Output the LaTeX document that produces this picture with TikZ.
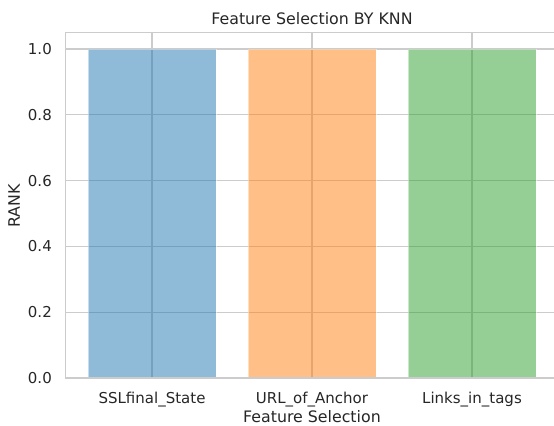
\documentclass[tikz,border=0pt]{standalone}
\usepackage{fontspec}
\setmainfont{DejaVu Sans}
\usepackage{xcolor}
\usetikzlibrary{positioning}
\definecolor{txt}{HTML}{262626}
\definecolor{gridc}{HTML}{CCCCCC}
\definecolor{barb}{HTML}{1F77B4}
\definecolor{baro}{HTML}{FF7F0E}
\definecolor{barg}{HTML}{2CA02C}
\tikzset{
  gridl/.style = {gridc,line width=1.1pt},
  spine/.style = {gridc,line width=1.6pt},
  rankbar/.style = {fill opacity=0.5,draw=white,draw opacity=0.5,line width=0.8pt},
  ticklab/.style = {text=txt,font=\fontsize{15}{15}\selectfont,inner sep=0pt},
  lab/.style = {text=txt,font=\fontsize{15.8}{15.8}\selectfont,inner sep=0pt}
}
\newcommand{\ytop}{1.05}

\begin{document}
\begin{tikzpicture}[x=160pt,y=329pt]
\useasboundingbox (-0.95,-0.1459) rectangle (2.5125,1.1489);
\clip (-0.95,-0.1459) rectangle (2.5125,1.1489);

% grid under the bars
\foreach \v [count=\i] in {0.0,0.2,0.4,0.6,0.8,1.0} {
  \draw[gridl] (-0.54,\v) -- (2.54,\v);
  \node[ticklab,anchor=east] (yt\i) at (-0.625,\v) {\v};
}
\foreach \x in {0,1,2}
  \draw[gridl] (\x,0) -- (\x,\ytop);

% bars, all ranked 1
\path[rankbar,fill=barb] (-0.4,0) rectangle (0.4,1);
\path[rankbar,fill=baro] (0.6,0) rectangle (1.4,1);
\path[rankbar,fill=barg] (1.6,0) rectangle (2.4,1);

% frame
\draw[spine] (-0.54,0) rectangle (2.54,\ytop);

\node[ticklab,anchor=base] (xt1) at (0,-0.077) {SSLfinal\_State};
\node[ticklab,anchor=base] (xt2) at (1,-0.077) {URL\_of\_Anchor};
\node[ticklab,anchor=base] (xt3) at (2,-0.077) {Links\_in\_tags};

\node[lab,anchor=base] (xlab) at (1,-0.1353) {Feature Selection};
\node[lab,rotate=90] (ylab) at (-0.8625,0.523) {RANK};
\node[lab,anchor=base] (title) at (1,1.0745) {Feature Selection BY KNN};
\end{tikzpicture}
\end{document}
